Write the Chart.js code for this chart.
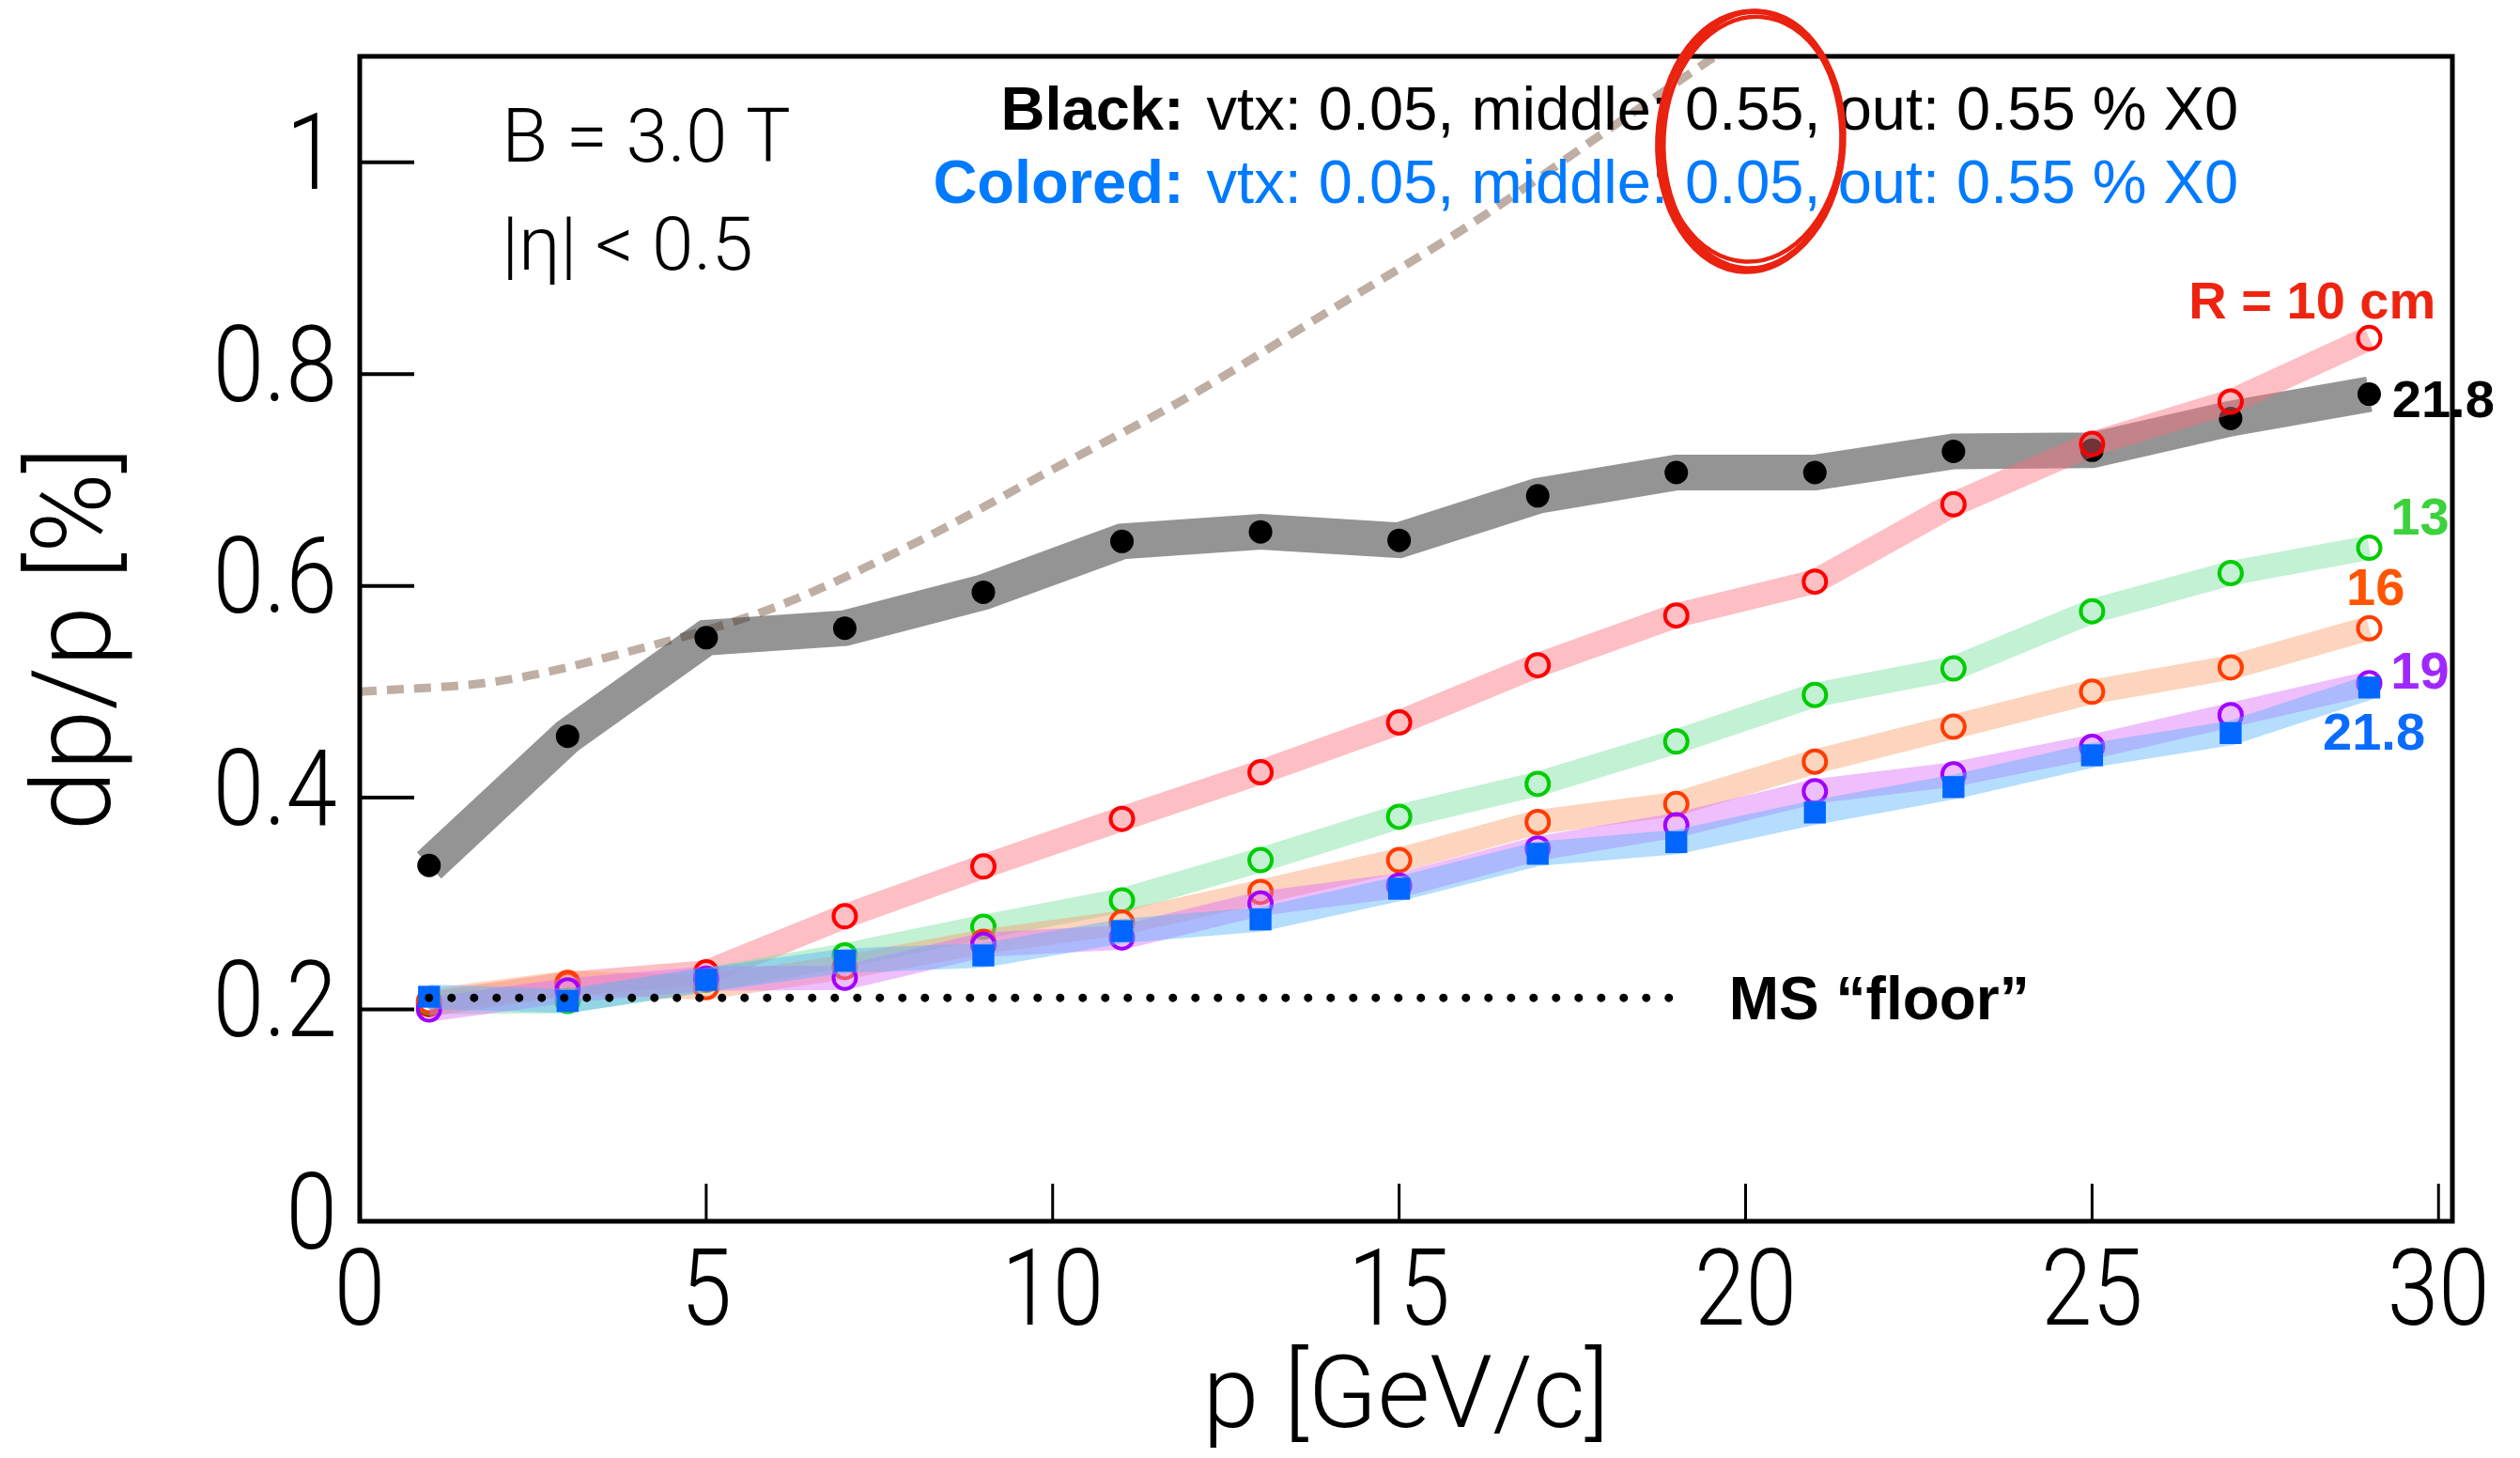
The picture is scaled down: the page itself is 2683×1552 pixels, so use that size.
<!DOCTYPE html>
<html>
<head>
<meta charset="utf-8">
<script src="https://cdn.jsdelivr.net/npm/chart.js@4.4.1/dist/chart.umd.min.js"></script>
<style>
  html, body { margin: 0; padding: 0; background: #ffffff; }
  canvas { display: block; }
</style>
</head>
<body>
<canvas id="chart" width="2683" height="1552"></canvas>
<script>
// Momentum bins [GeV/c]
const momentum = [1, 3, 5, 7, 9, 11, 13, 15, 17, 19, 21, 23, 25, 27, 29];

// Momentum resolution dp/p [%]
const resBlack = [0.336, 0.458, 0.551, 0.560, 0.594, 0.642, 0.651, 0.643, 0.685, 0.707, 0.707, 0.727, 0.728, 0.758, 0.781];
const resR10   = [0.205, 0.224, 0.235, 0.288, 0.335, 0.380, 0.424, 0.471, 0.525, 0.572, 0.604, 0.677, 0.734, 0.774, 0.834];
const resR13   = [0.207, 0.208, 0.228, 0.251, 0.278, 0.303, 0.341, 0.382, 0.413, 0.453, 0.497, 0.522, 0.576, 0.612, 0.636];
const resR16   = [0.208, 0.225, 0.221, 0.240, 0.264, 0.282, 0.311, 0.341, 0.377, 0.394, 0.434, 0.467, 0.500, 0.523, 0.560];
const resR19   = [0.200, 0.218, 0.229, 0.230, 0.261, 0.268, 0.300, 0.317, 0.352, 0.374, 0.406, 0.422, 0.448, 0.478, 0.508];
const resR218  = [0.212, 0.208, 0.228, 0.246, 0.251, 0.274, 0.285, 0.314, 0.347, 0.358, 0.386, 0.410, 0.440, 0.461, 0.504];

// Dashed reference curve
const envelopeP   = [0, 2, 4, 6, 8, 10, 12, 14, 16, 18, 20];
const envelopeRes = [0.50, 0.51, 0.54, 0.58, 0.64, 0.71, 0.78, 0.86, 0.94, 1.03, 1.12];

// Multiple-scattering floor
const floorP = [1, 19.21];
const floorRes = 0.211;

// Axis ticks
const xTickValues = [0, 5, 10, 15, 20, 25, 30];
const yTickValues = [0, 0.2, 0.4, 0.6, 0.8, 1.0];

// Text
const noteField = 'B = 3.0 T';
const noteEta = '|\u03B7| < 0.5';
const materialBlack = ['Black:', 'vtx: 0.05, middle: 0.55, out: 0.55 % X0'];
const materialColored = ['Colored:', 'vtx: 0.05, middle: 0.05, out: 0.55 % X0'];
const radiusLabels = ['R = 10 cm', '21.8', '13', '16', '19', '21.8'];
const floorLabel = 'MS \u201Cfloor\u201D';

const canvas = document.getElementById('chart');
const ctx = canvas.getContext('2d');

// Tick numerals use a narrow setting of the light face
const TICK_SIZE = 114;
const TICK_SQUEEZE = 0.86;
const baseFillText = ctx.fillText.bind(ctx);
ctx.fillText = function (text, x, y, maxWidth) {
  if (this.font.indexOf(TICK_SIZE + 'px') >= 0) {
    this.save();
    this.translate(x, y);
    this.scale(TICK_SQUEEZE, 1);
    baseFillText(text, 0, 0);
    this.restore();
  } else if (maxWidth !== undefined) {
    baseFillText(text, x, y, maxWidth);
  } else {
    baseFillText(text, x, y);
  }
};

const pts = (xs, ys) => xs.map((p, i) => ({ x: p, y: ys[i] }));

function bandSeries(values, band, marker, order, extra) {
  return Object.assign({
    data: pts(momentum, values),
    borderColor: band,
    borderWidth: 26,
    borderCapStyle: 'butt',
    borderJoinStyle: 'miter',
    pointStyle: 'circle',
    pointRadius: 12,
    pointBorderWidth: 4,
    pointBorderColor: marker,
    pointBackgroundColor: 'rgba(0,0,0,0)',
    fill: false,
    order: order
  }, extra || {});
}

const datasets = [
  {
    data: pts(envelopeP, envelopeRes),
    borderColor: 'rgb(191,174,163)',
    borderWidth: 9,
    borderDash: [18, 11],
    cubicInterpolationMode: 'monotone',
    pointRadius: 0,
    fill: false,
    clip: 0,
    order: 9
  },
  bandSeries(resBlack, 'rgba(60,60,60,0.55)', '#000000', 8, {
    borderWidth: 38, pointRadius: 12.5, pointBorderWidth: 0, pointBackgroundColor: '#000000'
  }),
  bandSeries(resR10, 'rgba(250,110,125,0.45)', '#ff0000', 7),
  bandSeries(resR13, 'rgba(120,225,160,0.45)', '#00cc00', 6),
  bandSeries(resR16, 'rgba(250,160,110,0.45)', '#ff3c00', 5),
  bandSeries(resR19, 'rgba(220,110,250,0.45)', '#a000ff', 4),
  bandSeries(resR218, 'rgba(90,180,250,0.45)', '#0066ff', 3, {
    pointStyle: 'rect', pointRadius: 16.5, pointBorderWidth: 0, pointBackgroundColor: '#0066ff'
  }),
  {
    data: pts(floorP, floorP.map(() => floorRes)),
    borderColor: '#000000',
    borderWidth: 9,
    borderDash: [0, 24],
    borderCapStyle: 'round',
    pointRadius: 0,
    fill: false,
    order: 1
  }
];

// Frame, inner tick marks and the text notes
const decorations = {
  id: 'decorations',
  afterDatasetsDraw(chart) {
    const { ctx, chartArea: a, scales: { x, y } } = chart;
    ctx.save();
    ctx.strokeStyle = '#000000';
    ctx.lineCap = 'butt';
    ctx.lineWidth = 3;
    xTickValues.forEach(v => {
      const px = x.getPixelForValue(v);
      ctx.beginPath(); ctx.moveTo(px, a.bottom); ctx.lineTo(px, a.bottom - 40); ctx.stroke();
    });
    ctx.lineWidth = 4;
    yTickValues.forEach(v => {
      const py = y.getPixelForValue(v);
      ctx.beginPath(); ctx.moveTo(a.left, py); ctx.lineTo(a.left + 58, py); ctx.stroke();
    });
    ctx.lineWidth = 5;
    ctx.lineJoin = 'miter';
    ctx.strokeRect(a.left, a.top, a.right - a.left, a.bottom - a.top);
    ctx.restore();
  },
  afterDraw(chart) {
    const { ctx, scales: { x, y } } = chart;
    const X = v => x.getPixelForValue(v);
    const Y = v => y.getPixelForValue(v);
    ctx.save();
    ctx.textBaseline = 'alphabetic';

    // Field and acceptance
    ctx.fillStyle = '#000000';
    ctx.textAlign = 'left';
    ctx.font = '300 80px Roboto';
    ctx.fillText(noteField, X(2.05), Y(1.0009));
    ctx.fillText(noteEta, X(2.05), Y(0.8989));

    // Material budget lines
    const drawPair = (pair, color, baseline) => {
      const right = X(27.11);
      ctx.fillStyle = color;
      ctx.textAlign = 'right';
      ctx.font = '65px "Liberation Sans"';
      ctx.fillText(pair[1], right, Y(baseline));
      const w = ctx.measureText(pair[1]).width;
      ctx.font = 'bold 65px "Liberation Sans"';
      ctx.fillText(pair[0], right - w - 24, Y(baseline));
    };
    drawPair(materialBlack, '#000000', 1.0311);
    drawPair(materialColored, '#007aff', 0.9619);

    // Layer radius labels
    ctx.font = 'bold 56px "Liberation Sans"';
    const labels = [
      [radiusLabels[0], 29.96, 0.8527, '#ee2410', 'right'],
      [radiusLabels[1], 29.33, 0.7595, '#000000', 'left'],
      [radiusLabels[2], 29.31, 0.6486, '#3cd23c', 'left'],
      [radiusLabels[3], 28.67, 0.5821, '#ff5500', 'left'],
      [radiusLabels[4], 29.31, 0.5031, '#a028ff', 'left'],
      [radiusLabels[5], 28.33, 0.4454, '#0a6cff', 'left']
    ];
    labels.forEach(([t, p, v, c, al]) => {
      ctx.fillStyle = c; ctx.textAlign = al; ctx.fillText(t, X(p), Y(v));
    });

    // Floor label
    ctx.fillStyle = '#000000';
    ctx.textAlign = 'left';
    ctx.font = 'bold 64px "Liberation Sans"';
    ctx.fillText(floorLabel, X(19.76), Y(0.1908));

    // Hand-drawn red ring around the middle-layer thickness
    const cx = X(20.08), cy = Y(1.024), rx = 97, ry = 133;
    ctx.strokeStyle = '#ea2210';
    ctx.lineWidth = 4.5;
    [[0, 0, 0, 0, 0.05], [2, 3, -2, 4, 0.06], [-2, 5, 1, 6, 0.04], [1, 7, -1, 2, 0.07], [0, 4, 2, 5, 0.05]]
      .forEach(([dx, dy, drx, dry, rot]) => {
        ctx.beginPath();
        ctx.ellipse(cx + dx, cy + dy, rx + drx, ry + dry, rot, 0, Math.PI * 2);
        ctx.stroke();
      });
    ctx.restore();
  }
};

const tickFont = { family: 'Roboto', weight: 300, size: TICK_SIZE, lineHeight: 1 };

// Keep the plot frame fixed: no extra room reserved for edge labels
const noEdgePadding = s => { s.paddingTop = 0; s.paddingBottom = 0; s.paddingLeft = 0; s.paddingRight = 0; };

new Chart(ctx, {
  type: 'line',
  data: { datasets },
  options: {
    responsive: false,
    animation: false,
    events: [],
    devicePixelRatio: 1,
    layout: { padding: { left: 0, top: 60, right: 72, bottom: 0 } },
    plugins: { legend: { display: false }, tooltip: { enabled: false } },
    scales: {
      x: {
        type: 'linear',
        min: 0,
        max: 30.2,
        afterBuildTicks: s => { s.ticks = xTickValues.map(v => ({ value: v })); },
        afterFit: s => { s.height = 252; noEdgePadding(s); },
        grid: { display: false },
        border: { display: false },
        ticks: {
          font: tickFont, color: '#000000', padding: 16,
          maxRotation: 0, minRotation: 0, autoSkip: false,
          callback: v => String(v)
        },
        title: {
          display: true, text: 'p [GeV/c]', color: '#000000',
          font: { family: 'Roboto', weight: 300, size: 108, lineHeight: 1 },
          padding: { top: 0, bottom: 6 }
        }
      },
      y: {
        type: 'linear',
        min: 0,
        max: 1.1,
        afterBuildTicks: s => { s.ticks = yTickValues.map(v => ({ value: v })); },
        afterFit: s => { s.width = 383; noEdgePadding(s); },
        grid: { display: false },
        border: { display: false },
        ticks: {
          font: tickFont, color: '#000000', padding: 16,
          callback: v => String(Math.round(v * 10) / 10)
        },
        title: {
          display: true, text: 'dp/p [%]', color: '#000000',
          font: { family: 'Roboto', weight: 300, size: 116, lineHeight: 1 },
          padding: { top: 30, bottom: 0 }
        }
      }
    }
  },
  plugins: [decorations]
});
</script>
</body>
</html>
